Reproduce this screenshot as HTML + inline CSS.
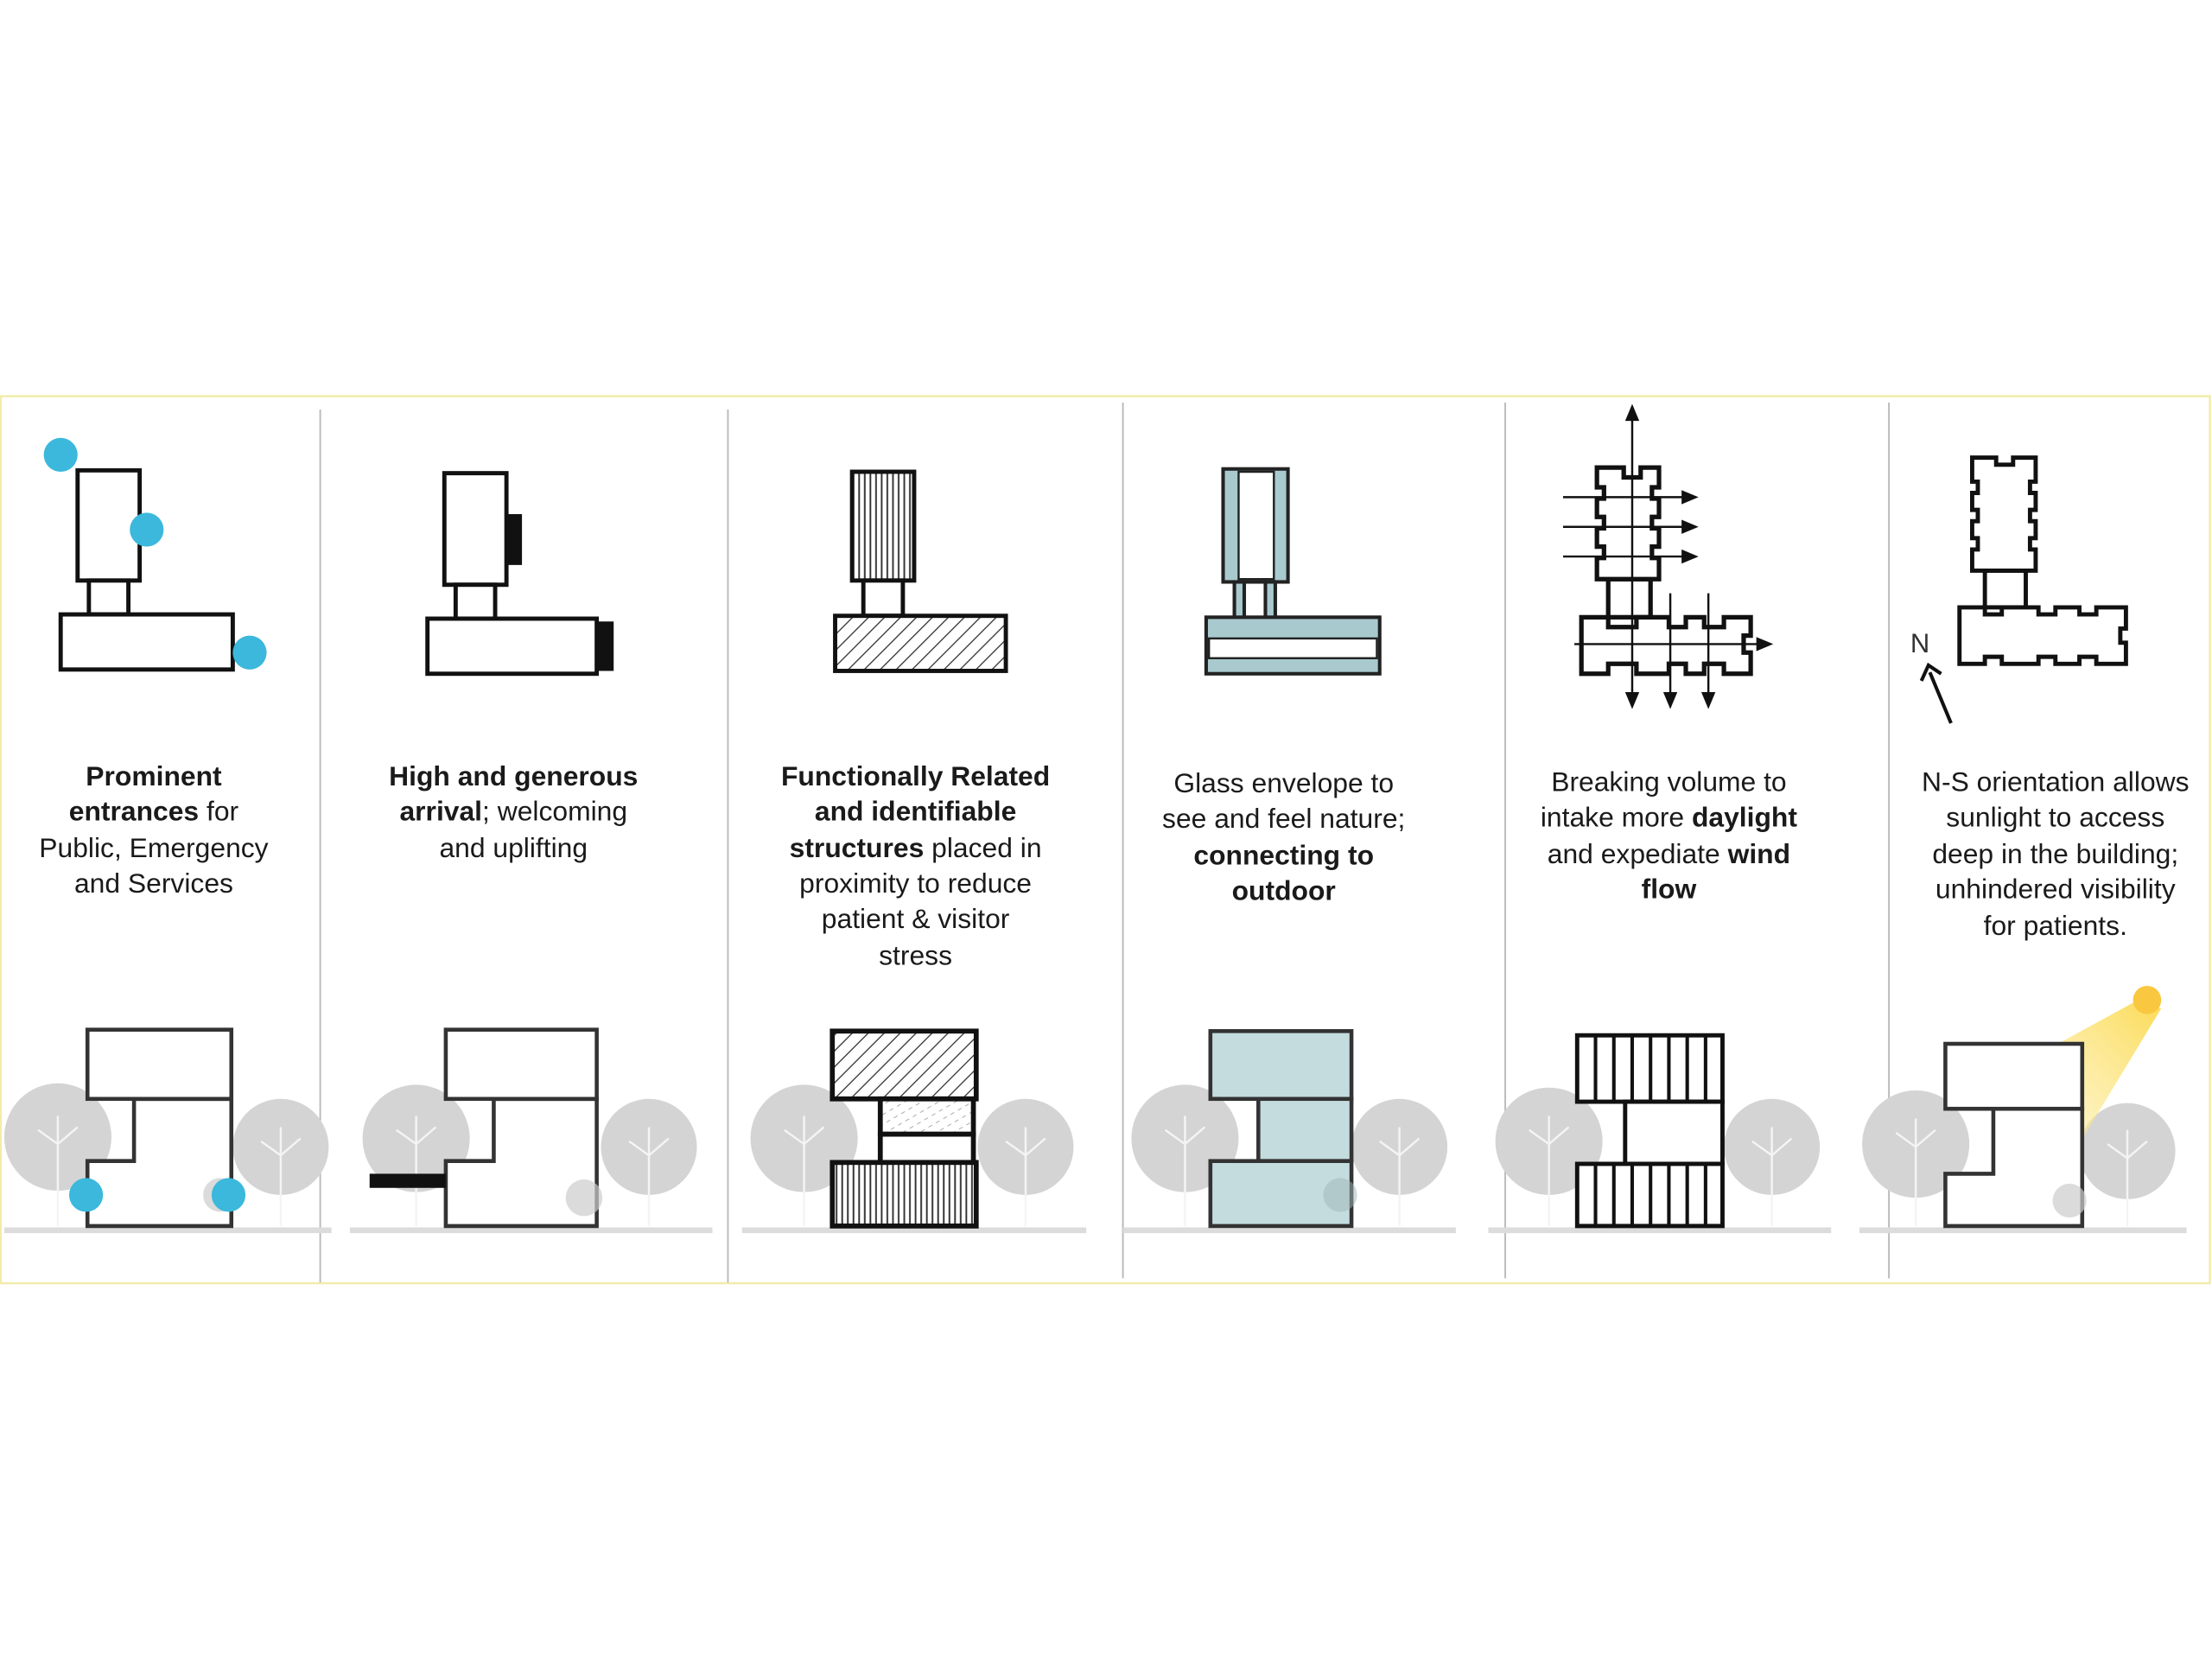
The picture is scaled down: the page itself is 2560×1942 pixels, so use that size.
<!DOCTYPE html>
<html><head><meta charset="utf-8"><style>
html,body{margin:0;padding:0;background:#fff;}
svg{display:block}
text{font-family:"Liberation Sans",sans-serif;font-size:19.5px;fill:#1a1a1a;text-anchor:middle}
.b{font-weight:bold}
</style></head><body>
<svg width="2560" height="1942" viewBox="0 0 1568 1188" preserveAspectRatio="none" xmlns="http://www.w3.org/2000/svg">
<defs>
<pattern id="diag" width="8" height="8" patternUnits="userSpaceOnUse" patternTransform="rotate(45)"><rect width="8" height="8" fill="#fff"/><line x1="0" y1="0" x2="0" y2="8" stroke="#333" stroke-width="1.6"/></pattern>
<pattern id="vert" width="4" height="4" patternUnits="userSpaceOnUse"><rect width="4" height="4" fill="#fff"/><line x1="1" y1="0" x2="1" y2="4" stroke="#333" stroke-width="1.2"/></pattern>
<pattern id="light" width="6" height="6" patternUnits="userSpaceOnUse" patternTransform="rotate(60)"><rect width="6" height="6" fill="#fff"/><line x1="0" y1="0" x2="0" y2="3" stroke="#999" stroke-width="1"/></pattern>
<linearGradient id="sun" x1="1" y1="0" x2="0" y2="1"><stop offset="0" stop-color="#fbd94e" stop-opacity="0.95"/><stop offset="1" stop-color="#fdf0b0" stop-opacity="0.45"/></linearGradient>
</defs>
<rect width="1568" height="1188" fill="#fff"/>
<rect x="0.5" y="280.5" width="1566" height="628" fill="none" stroke="#f1eca8" stroke-width="1.5"/>
<g stroke="#bbb" stroke-width="1.2">
<line x1="227" y1="290" x2="227" y2="908"/><line x1="516" y1="290" x2="516" y2="908"/>
<line x1="796" y1="285" x2="796" y2="905"/><line x1="1067" y1="285" x2="1067" y2="905"/>
<line x1="1339" y1="285" x2="1339" y2="905"/>
</g>

<g stroke="#dcdcdc" stroke-width="4">
<line x1="3" y1="871" x2="235" y2="871"/><line x1="248" y1="871" x2="505" y2="871"/>
<line x1="526" y1="871" x2="770" y2="871"/><line x1="796" y1="871" x2="1032" y2="871"/>
<line x1="1055" y1="871" x2="1298" y2="871"/><line x1="1318" y1="871" x2="1550" y2="871"/>
</g>
<g fill="#d4d4d4">
<circle cx="41" cy="805" r="38"/><circle cx="199" cy="812" r="34"/>
<circle cx="295" cy="806" r="38"/><circle cx="460" cy="812" r="34"/>
<circle cx="570" cy="806" r="38"/><circle cx="727" cy="812" r="34"/>
<circle cx="840" cy="806" r="38"/><circle cx="992" cy="812" r="34"/>
<circle cx="1098" cy="808" r="38"/><circle cx="1256" cy="812" r="34"/>
<circle cx="1358" cy="810" r="38"/><circle cx="1508" cy="815" r="34"/>
</g>
<g stroke="#f4f4f4" stroke-width="1.5" fill="none">
<path d="M41 790V868M27 800l14 10 14-12"/><path d="M199 798V868M185 808l14 10 14-12"/>
<path d="M295 790V868M281 800l14 10 14-12"/><path d="M460 798V868M446 808l14 10 14-12"/>
<path d="M570 790V868M556 800l14 10 14-12"/><path d="M727 798V868M713 808l14 10 14-12"/>
<path d="M840 790V868M826 800l14 10 14-12"/><path d="M992 798V868M978 808l14 10 14-12"/>
<path d="M1098 790V868M1084 800l14 10 14-12"/><path d="M1256 798V868M1242 808l14 10 14-12"/>
<path d="M1358 792V868M1344 802l14 10 14-12"/><path d="M1508 800V868M1494 810l14 10 14-12"/>
</g>
<polygon points="1512,710 1532,714 1472,813 1433,753" fill="url(#sun)"/>
<circle cx="1522" cy="708" r="10" fill="#f9c840"/>

<g fill="#fff" stroke="#111" stroke-width="3">
<rect x="55" y="333" width="44" height="78"/><rect x="63" y="411" width="28" height="24"/><rect x="43" y="435" width="122" height="39"/>
</g>
<g fill="#3bb8dc"><circle cx="43" cy="322" r="12"/><circle cx="104" cy="375" r="12"/><circle cx="177" cy="462" r="12"/></g>
<g fill="#fff" stroke="#333" stroke-width="2.8">
<polygon points="95,778 164,778 164,868 62,868 62,822 95,822"/><rect x="62" y="729" width="102" height="49"/>
</g>
<circle cx="156" cy="846" r="12" fill="#ccc" opacity="0.7"/>
<g fill="#3bb8dc"><circle cx="61" cy="846" r="12"/><circle cx="162" cy="846" r="12"/></g>

<g fill="#fff" stroke="#111" stroke-width="3">
<rect x="315" y="335" width="44" height="79"/><rect x="323" y="414" width="28" height="24"/><rect x="303" y="438" width="120" height="39"/>
</g>
<rect x="359" y="364" width="11" height="36" fill="#111"/><rect x="423" y="440" width="12" height="35" fill="#111"/>
<g fill="#fff" stroke="#333" stroke-width="2.8">
<polygon points="350,778 423,778 423,868 316,868 316,822 350,822"/><rect x="316" y="729" width="107" height="49"/>
</g>
<circle cx="414" cy="848" r="13" fill="#ccc" opacity="0.7"/>
<rect x="262" y="831" width="54" height="10" fill="#111"/>

<g stroke="#111" stroke-width="3">
<rect x="604" y="334" width="44" height="77" fill="url(#vert)"/><rect x="612" y="411" width="28" height="25" fill="#fff"/><rect x="592" y="436" width="121" height="39" fill="url(#diag)"/>
</g>
<g stroke="#111" stroke-width="3.5">
<rect x="590" y="730" width="102" height="48" fill="url(#diag)"/>
<rect x="624" y="778" width="66" height="25" fill="url(#light)"/>
<rect x="624" y="803" width="66" height="20" fill="#fff"/>
<rect x="590" y="823" width="102" height="45" fill="url(#vert)"/>
</g>

<g stroke="#222" stroke-width="2.5" fill="#a8cace">
<rect x="867" y="332" width="46" height="80"/>
<rect x="875" y="412" width="7" height="26"/><rect x="897" y="412" width="7" height="26"/>
<rect x="855" y="437" width="123" height="40"/>
</g>
<rect x="878" y="334" width="25" height="76" fill="#fff" stroke="#222" stroke-width="1.5"/>
<rect x="857" y="452" width="119" height="14" fill="#fff" stroke="#222" stroke-width="1.5"/>
<g stroke="#333" stroke-width="2.8" fill="#c5dcdf">
<rect x="858" y="730" width="100" height="48"/><rect x="892" y="778" width="66" height="44"/><rect x="858" y="822" width="100" height="46"/>
</g>
<circle cx="950" cy="846" r="12" fill="#9fb5b7" opacity="0.5"/>

<g fill="#fff" stroke="#111" stroke-width="3.2">
<rect x="1140" y="410" width="30" height="27"/>
<path d="M1132 331H1151V338H1163V331H1176V345H1171V353H1176V366H1171V374H1176V387H1171V395H1176V410H1132V395H1137V387H1132V374H1137V366H1132V353H1137V345H1132Z"/>
<path d="M1121 437H1140V444H1160V437H1183V444H1195V437H1208V444H1222V437H1241V450H1236V462H1241V477H1222V470H1208V477H1195V470H1183V477H1160V470H1140V477H1121Z"/>
</g>
<g stroke="#111" stroke-width="1.5" fill="none">
<line x1="1157" y1="296" x2="1157" y2="494"/>
<line x1="1108" y1="352" x2="1194" y2="352"/><line x1="1108" y1="373" x2="1194" y2="373"/><line x1="1108" y1="394" x2="1194" y2="394"/>
<line x1="1184" y1="420" x2="1184" y2="494"/><line x1="1211" y1="420" x2="1211" y2="494"/>
<line x1="1116" y1="456" x2="1246" y2="456"/>
</g>
<g fill="#111">
<polygon points="1157,286 1152,298 1162,298"/>
<polygon points="1204,352 1192,347 1192,357"/><polygon points="1204,373 1192,368 1192,378"/><polygon points="1204,394 1192,389 1192,399"/>
<polygon points="1157,502 1152,490 1162,490"/><polygon points="1184,502 1179,490 1189,490"/><polygon points="1211,502 1206,490 1216,490"/>
<polygon points="1257,456 1245,451 1245,461"/>
</g>
<g stroke="#111" stroke-width="3" fill="#fff">
<rect x="1118" y="733" width="103" height="47"/><rect x="1152" y="780" width="69" height="44"/><rect x="1118" y="824" width="103" height="44"/>
</g>
<g stroke="#111" stroke-width="2.5">
<path d="M1131 733V780M1144 733V780M1157 733V780M1170 733V780M1183 733V780M1196 733V780M1209 733V780"/>
<path d="M1131 824V868M1144 824V868M1157 824V868M1170 824V868M1183 824V868M1196 824V868M1209 824V868"/>
</g>

<g fill="#fff" stroke="#111" stroke-width="3">
<rect x="1407" y="404" width="29" height="26"/>
<path d="M1398 324H1415V329H1427V324H1443V341H1439V349H1443V361H1439V369H1443V381H1439V389H1443V404H1398V389H1402V381H1398V369H1402V361H1398V349H1402V341H1398Z"/>
<path d="M1389 430H1407V435H1419V430H1445V435H1457V430H1474V435H1486V430H1507V445H1503V455H1507V470H1486V465H1474V470H1457V465H1445V470H1419V465H1407V470H1389Z"/>
</g>
<text x="1361" y="462" style="font-size:19px;fill:#333">N</text>
<line x1="1383" y1="512" x2="1368" y2="476" stroke="#111" stroke-width="2.5"/>
<polyline points="1362,482 1367,471 1376,477" fill="none" stroke="#111" stroke-width="2.5"/>
<g fill="#fff" stroke="#333" stroke-width="2.8">
<polygon points="1413,785 1476,785 1476,868 1379,868 1379,831 1413,831"/><rect x="1379" y="739" width="97" height="46"/>
</g>
<circle cx="1467" cy="850" r="12" fill="#ccc" opacity="0.7"/>

<text x="109" y="556"><tspan class="b">Prominent</tspan></text>
<text x="109" y="581"><tspan class="b">entrances</tspan> for</text>
<text x="109" y="607">Public, Emergency</text>
<text x="109" y="632">and Services</text>

<text x="364" y="556"><tspan class="b">High and generous</tspan></text>
<text x="364" y="581"><tspan class="b">arrival</tspan>; welcoming</text>
<text x="364" y="607">and uplifting</text>

<text x="649" y="556"><tspan class="b">Functionally Related</tspan></text>
<text x="649" y="581"><tspan class="b">and identifiable</tspan></text>
<text x="649" y="607"><tspan class="b">structures</tspan> placed in</text>
<text x="649" y="632">proximity to reduce</text>
<text x="649" y="657">patient &amp; visitor</text>
<text x="649" y="683">stress</text>

<text x="910" y="561">Glass envelope to</text>
<text x="910" y="586">see and feel nature;</text>
<text x="910" y="612"><tspan class="b">connecting to</tspan></text>
<text x="910" y="637"><tspan class="b">outdoor</tspan></text>

<text x="1183" y="560">Breaking volume to</text>
<text x="1183" y="585">intake more <tspan class="b">daylight</tspan></text>
<text x="1183" y="611">and expediate <tspan class="b">wind</tspan></text>
<text x="1183" y="636"><tspan class="b">flow</tspan></text>

<text x="1457" y="560">N-S orientation allows</text>
<text x="1457" y="585">sunlight to access</text>
<text x="1457" y="611">deep in the building;</text>
<text x="1457" y="636">unhindered visibility</text>
<text x="1457" y="662">for patients.</text>
</svg>
</body></html>
